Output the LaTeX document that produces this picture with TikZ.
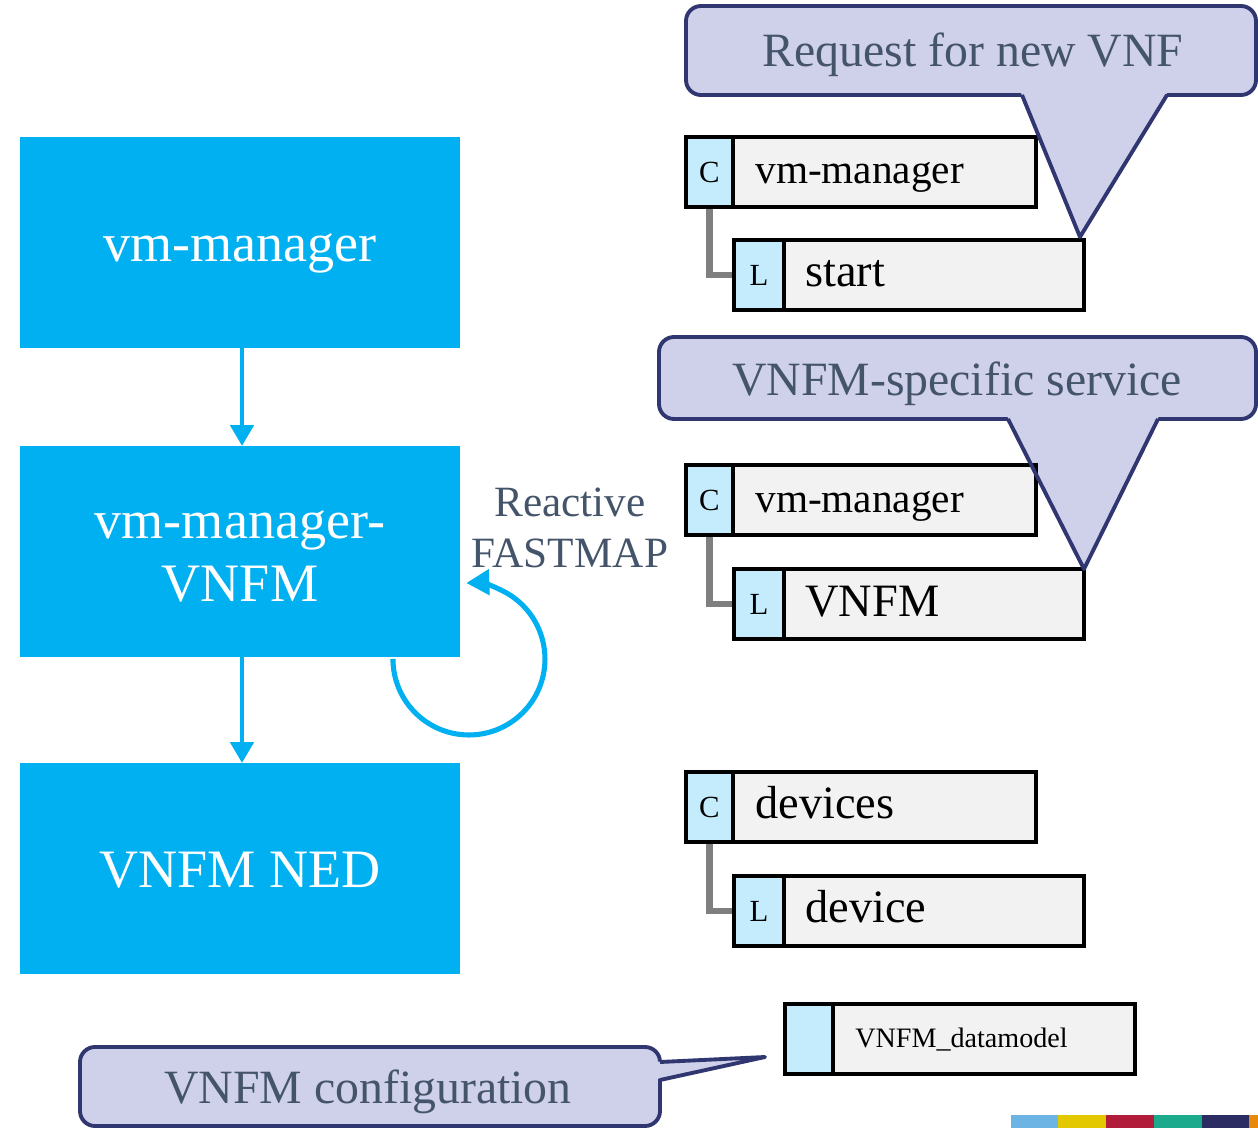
\documentclass[tikz,border=0pt]{standalone}
\usepackage{fontspec}
\setmainfont{Liberation Serif}
\usetikzlibrary{arrows.meta,calc}
\pgfdeclarelayer{background}
\pgfsetlayers{background,main}

\definecolor{boxblue}{HTML}{00B0F0}
\definecolor{callfill}{HTML}{CFD0EA}
\definecolor{calldraw}{HTML}{2F3670}
\definecolor{slate}{HTML}{44546A}
\definecolor{rowgray}{HTML}{F2F2F2}
\definecolor{cellblue}{HTML}{C5ECFC}
\definecolor{treegray}{HTML}{7F7F7F}
\definecolor{stripA}{HTML}{6CB4E4}
\definecolor{stripB}{HTML}{E3C800}
\definecolor{stripC}{HTML}{B01C3A}
\definecolor{stripD}{HTML}{1BAA8C}
\definecolor{stripE}{HTML}{2B2D62}
\definecolor{stripF}{HTML}{E8890C}

\tikzset{
  bluebox/.style={fill=boxblue, minimum width=8.8cm, minimum height=4.22cm,
    inner sep=0pt, outer sep=0pt},
  boxtext/.style={text=white, align=center, inner sep=0pt,
    font=\fontsize{30.8}{36.3}\selectfont},
  flow/.style={boxblue, line width=2.8pt,
    -{Triangle[width=0.46cm,length=0.42cm]}},
  loopline/.style={boxblue, line width=2.9pt,
    -{Triangle[width=0.5cm,length=0.46cm]}},
  callout/.style={fill=callfill, draw=calldraw, line width=2.2pt,
    rounded corners=0.3cm},
  pointer/.style={draw=calldraw, line width=2.2pt, line join=round},
  calltext/.style={text=slate, anchor=base, inner sep=0pt,
    font=\fontsize{27.2}{32}\selectfont},
  rowbox/.style={draw=black, fill=rowgray, line width=2.3pt,
    minimum width=7.0cm, minimum height=1.4cm, anchor=north west,
    inner sep=0pt, outer sep=0pt},
  cellbox/.style={draw=black, fill=cellblue, line width=2.3pt,
    minimum width=0.96cm, minimum height=1.4cm, anchor=north west,
    inner sep=0pt, outer sep=0pt, font=\fontsize{17.5}{20}\selectfont},
  rowtext/.style={anchor=base west, inner sep=0pt,
    font=\fontsize{26.4}{30}\selectfont},
  treeline/.style={treegray, line width=3.6pt},
}

\begin{document}
\begin{tikzpicture}[x=0.02cm, y=-0.02cm]
\useasboundingbox (0,0) rectangle (1258,1128);

% processing chain on the left
\node[bluebox] (vmm)  at (240,242.5) {};
\node[bluebox] (vnfm) at (240,551.5) {};
\node[bluebox] (ned)  at (240,868.5) {};
\node[boxtext] (vmmtext)  at (240,253) {vm-manager};
\node[boxtext] (vnfmtext) at (240,556.5) {vm-manager-\\VNFM};
\node[boxtext] (nedtext)  at (240,870) {VNFM NED};
\draw[flow] ($(vmm.south)+(2,0)$) -- ($(vnfm.north)+(2,0)$);
\draw[flow] ($(vnfm.south)+(2,0)$) -- ($(ned.north)+(2,0)$);
\draw[loopline] ($(vnfm.south east)+(-67,2)$)
  arc[start angle=180, end angle=-92, radius=76];
\node[text=slate, align=center, inner sep=0pt,
  font=\fontsize{24.6}{29}\selectfont] (react) at (570,528)
  {Reactive\\FASTMAP};

% callout: request for new VNF
\path[callout] (686,6) rectangle (1256,95);
\fill[callfill] (1019,88) -- (1170,88) -- (1080,237) -- cycle;
\node[calltext] (req) at (973,67) {Request for new VNF};

% tree: vm-manager / start
\node[rowbox] (r1) at (686,137) {};
\node[cellbox, minimum width=0.94cm] (c1) at (686,137) {C};
\node[rowtext, font=\fontsize{23.5}{28}\selectfont] (t1) at (755,184) {vm-manager};
\node[rowbox] (r2) at (734,240) {};
\node[cellbox, minimum width=1.0cm] (l1) at (734,240) {L};
\node[rowtext] (t2) at (805,287) {start};
\draw[pointer] (1022,95) -- (1080,237) -- (1167,95);

% callout: VNFM-specific service
\path[callout] (659,337) rectangle (1256,419);
\fill[callfill] (1005,412) -- (1161,412) -- (1084,569) -- cycle;
\node[calltext] (svc) at (957,396) {VNFM-specific service};

% tree: vm-manager / VNFM
\node[rowbox] (r3) at (686,465) {};
\node[cellbox, minimum width=0.94cm] (c2) at (686,465) {C};
\node[rowtext, font=\fontsize{23.5}{28}\selectfont] (t3) at (755,512) {vm-manager};
\node[rowbox] (r4) at (734,569) {};
\node[cellbox, minimum width=1.0cm] (l2) at (734,569) {L};
\node[rowtext] (t4) at (805,616) {VNFM};
\draw[pointer] (1008,419) -- (1084,569) -- (1158,419);

% tree: devices / device
\node[rowbox] (r5) at (686,772) {};
\node[cellbox, minimum width=0.94cm] (c3) at (686,772) {C};
\node[rowtext] (t5) at (755,818) {devices};
\node[rowbox] (r6) at (734,876) {};
\node[cellbox, minimum width=1.0cm] (l3) at (734,876) {L};
\node[rowtext] (t6) at (805,922) {device};

% data model module
\node[rowbox] (r7) at (785,1004) {};
\node[cellbox] (m1) at (785,1004) {};
\node[rowtext, font=\fontsize{16}{19}\selectfont] (t7) at (855,1047) {VNFM\_datamodel};

% callout: VNFM configuration
\path[callout] (80,1047) rectangle (660,1126);
\fill[callfill] (652,1062) -- (765,1057) -- (652,1080) -- cycle;
\draw[pointer] (660,1062) -- (765,1057) -- (660,1080);
\node[calltext] (cfg) at (368,1103) {VNFM configuration};

% tree links
\begin{pgfonlayer}{background}
  \draw[treeline] (c1.south) |- (l1.west);
  \draw[treeline] (c2.south) |- (l2.west);
  \draw[treeline] (c3.south) |- (l3.west);
\end{pgfonlayer}

% colour strip
\fill[stripA] (1011,1115) rectangle (1058,1128);
\fill[stripB] (1058,1115) rectangle (1106,1128);
\fill[stripC] (1106,1115) rectangle (1154,1128);
\fill[stripD] (1154,1115) rectangle (1202,1128);
\fill[stripE] (1202,1115) rectangle (1249,1128);
\fill[stripF] (1249,1115) rectangle (1258,1128);
\end{tikzpicture}
\end{document}
